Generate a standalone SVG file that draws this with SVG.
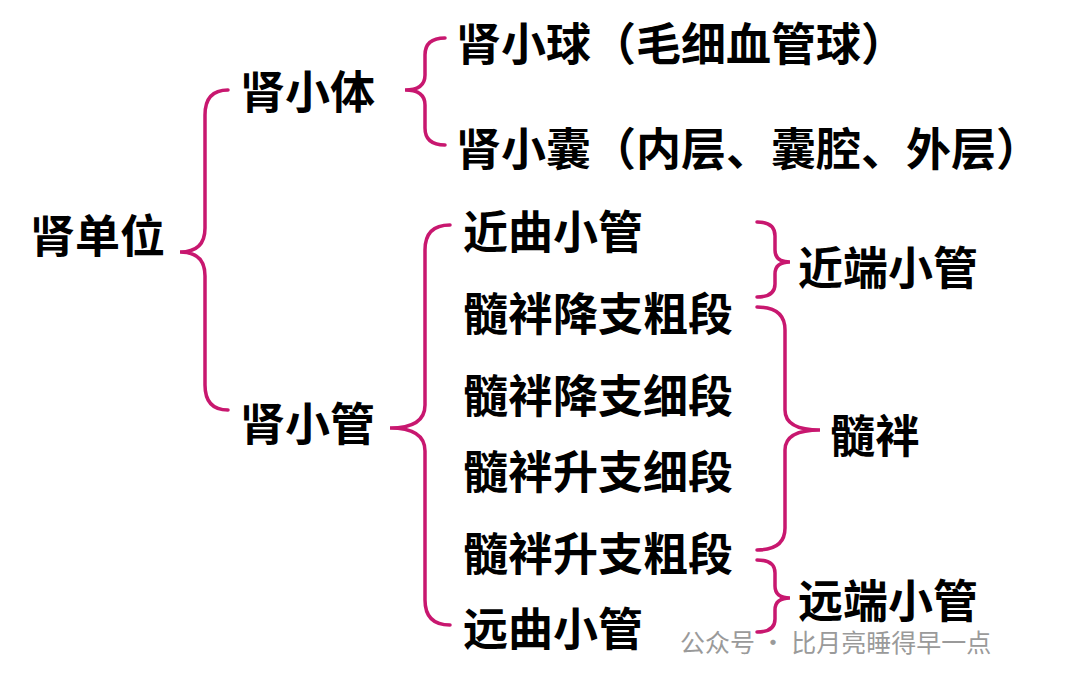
<svg xmlns="http://www.w3.org/2000/svg" width="1080" height="684" viewBox="0 0 1080 684">
<style>
.t{font-family:"Noto Sans CJK SC","Liberation Sans",sans-serif;font-weight:bold;font-size:45px;fill:#000}
.b{fill:none;stroke:#c8176f;stroke-width:3.5;stroke-linecap:round}
.w{font-family:"Noto Sans CJK SC",sans-serif;font-size:25px;fill:#9a9a9a}
</style>
<rect width="1080" height="684" fill="#fff"/>
<g id="connectors">
<path class="b" d="M228,90 Q205,90 205,115 L205,228 Q205,252 180,252 Q205,252 205,276 L205,385 Q205,410 228,410"/>
<path class="b" d="M445,38 Q425,38 425,55 L425,75 Q425,90 405,90 Q425,90 425,105 L425,128 Q425,145 445,145"/>
<path class="b" d="M450,225 Q425,225 425,250 L425,405 Q425,428 390,428 Q425,428 425,451 L425,600 Q425,625 450,625"/>
<path class="b" d="M757,222 Q775,222 775,236 L775,250 Q775,262 790,262 Q775,262 775,274 L775,284 Q775,297 757,297"/>
<path class="b" d="M757,307 Q785,307 785,330 L785,410 Q785,430 820,430 Q785,430 785,450 L785,528 Q785,550 757,550"/>
<path class="b" d="M757,560 Q775,560 775,573 L775,586 Q775,598 790,598 Q775,598 775,610 L775,619 Q775,632 757,632"/>
</g>
<g id="n1"><text class="t" x="30" y="253">肾单位</text></g>
<g id="n2"><text class="t" x="240" y="109">肾小体</text></g>
<g id="n3"><text class="t" x="456" y="61">肾小球（毛细血管球）</text></g>
<g id="n4"><text class="t" x="456" y="166">肾小囊（内层、囊腔、外层）</text></g>
<g id="n5"><text class="t" x="240" y="441">肾小管</text></g>
<g id="n6"><text class="t" x="463" y="249">近曲小管</text></g>
<g id="n7"><text class="t" x="463" y="331">髓袢降支粗段</text></g>
<g id="n8"><text class="t" x="463" y="413">髓袢降支细段</text></g>
<g id="n9"><text class="t" x="463" y="489">髓袢升支细段</text></g>
<g id="n10"><text class="t" x="463" y="571">髓袢升支粗段</text></g>
<g id="n11"><text class="t" x="463" y="646">远曲小管</text></g>
<g id="n12"><text class="t" x="798" y="285">近端小管</text></g>
<g id="n13"><text class="t" x="830" y="453">髓袢</text></g>
<g id="n14"><text class="t" x="798" y="618">远端小管</text></g>
<g id="wm"><text class="w" x="680" y="652">公众号 · 比月亮睡得早一点</text></g>
</svg>
